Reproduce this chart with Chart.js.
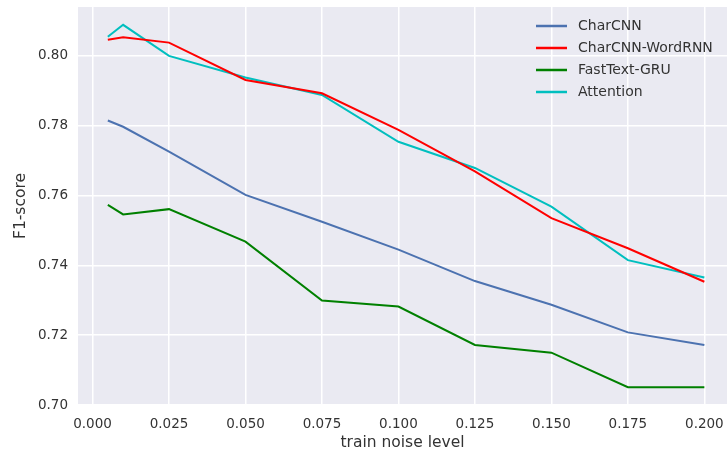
<!DOCTYPE html>
<html>
<head>
<meta charset="utf-8">
<script src="https://cdn.jsdelivr.net/npm/chart.js@4.4.1/dist/chart.umd.min.js"></script>
<style>
  html, body { margin: 0; padding: 0; background: #fff; }
  #wrap { width: 727px; height: 456px; }
</style>
</head>
<body>
<div id="wrap"><canvas id="chart"></canvas></div>
<script>
const noiseLevels = [0.005, 0.01, 0.025, 0.05, 0.075, 0.1, 0.125, 0.15, 0.175, 0.2];
const charCnn = [0.7815, 0.7797, 0.7726, 0.7602, 0.7525, 0.7445, 0.7355, 0.7287, 0.7208, 0.7172];
const charCnnWordRnn = [0.8046, 0.8053, 0.8038, 0.7931, 0.7893, 0.7788, 0.7669, 0.7535, 0.7449, 0.7353];
const fastTextGru = [0.7573, 0.7546, 0.7561, 0.7468, 0.7299, 0.7282, 0.7172, 0.7150, 0.7051, 0.7051];
const attention = [0.8055, 0.8089, 0.8000, 0.7938, 0.7888, 0.7754, 0.7679, 0.7568, 0.7415, 0.7365];
const xTicks = [0, 0.025, 0.05, 0.075, 0.1, 0.125, 0.15, 0.175, 0.2];
const yTicks = [0.70, 0.72, 0.74, 0.76, 0.78, 0.80];

const toPoints = values => values.map((v, i) => ({ x: noiseLevels[i], y: v }));
const textColor = '#333333';
const fontFamily = '"DejaVu Sans", sans-serif';

// legend drawn inside the plot area, seaborn style
const innerLegend = {
  id: 'innerLegend',
  afterDatasetsDraw(chart) {
    const { ctx, chartArea } = chart;
    const lineX = chartArea.right - 191;
    let y = chartArea.top + 19;
    ctx.save();
    ctx.font = '14px ' + fontFamily;
    ctx.textBaseline = 'middle';
    chart.data.datasets.forEach(ds => {
      ctx.strokeStyle = ds.borderColor;
      ctx.lineWidth = 2.5;
      ctx.beginPath();
      ctx.moveTo(lineX, y);
      ctx.lineTo(lineX + 31, y);
      ctx.stroke();
      ctx.fillStyle = textColor;
      ctx.fillText(ds.label, lineX + 42, y);
      y += 22;
    });
    ctx.restore();
  }
};

const plotBackground = {
  id: 'plotBackground',
  beforeDraw(chart) {
    const { ctx, chartArea } = chart;
    ctx.save();
    ctx.fillStyle = '#EAEAF2';
    ctx.fillRect(chartArea.left, chartArea.top, chartArea.right - chartArea.left, chartArea.bottom - chartArea.top);
    ctx.restore();
  }
};

new Chart(document.getElementById('chart'), {
  type: 'line',
  data: {
    datasets: [
      { label: 'CharCNN', data: toPoints(charCnn), borderColor: '#4C72B0' },
      { label: 'CharCNN-WordRNN', data: toPoints(charCnnWordRnn), borderColor: '#FF0000' },
      { label: 'FastText-GRU', data: toPoints(fastTextGru), borderColor: '#008000' },
      { label: 'Attention', data: toPoints(attention), borderColor: '#00BFBF' }
    ]
  },
  options: {
    responsive: true,
    maintainAspectRatio: false,
    animation: false,
    layout: { padding: { top: 7, right: 0, left: 0, bottom: 0 } },
    elements: {
      point: { radius: 0 },
      line: { borderWidth: 2, tension: 0, fill: false }
    },
    plugins: {
      legend: { display: false },
      tooltip: { enabled: false }
    },
    scales: {
      x: {
        type: 'linear',
        min: -0.00475,
        max: 0.2074,
        border: { display: false },
        grid: { color: '#FFFFFF', lineWidth: 1.5, drawTicks: false },
        afterBuildTicks: scale => { scale.ticks = xTicks.map(v => ({ value: v })); },
        afterFit: scale => {
          scale.height = 51;
          scale.paddingLeft = 0;
          scale.paddingRight = 0;
        },
        ticks: {
          padding: 11,
          color: textColor,
          font: { family: fontFamily, size: 13.5 },
          maxRotation: 0,
          callback: v => v.toFixed(3)
        },
        title: {
          display: true,
          text: 'train noise level',
          color: textColor,
          font: { family: fontFamily, size: 15.5 },
          padding: { top: 2, bottom: 4 }
        }
      },
      y: {
        type: 'linear',
        min: 0.70,
        max: 0.814,
        border: { display: false },
        grid: { color: '#FFFFFF', lineWidth: 1.5, drawTicks: false },
        afterBuildTicks: scale => { scale.ticks = yTicks.map(v => ({ value: v })); },
        afterFit: scale => {
          scale.width = 78;
          scale.paddingTop = 0;
          scale.paddingBottom = 0;
        },
        ticks: {
          padding: 10,
          color: textColor,
          font: { family: fontFamily, size: 13.5 },
          callback: v => v.toFixed(2)
        },
        title: {
          display: true,
          text: 'F1-score',
          color: textColor,
          font: { family: fontFamily, size: 15.5 },
          padding: { top: 12, bottom: 4 }
        }
      }
    }
  },
  plugins: [plotBackground, innerLegend]
});
</script>
</body>
</html>
